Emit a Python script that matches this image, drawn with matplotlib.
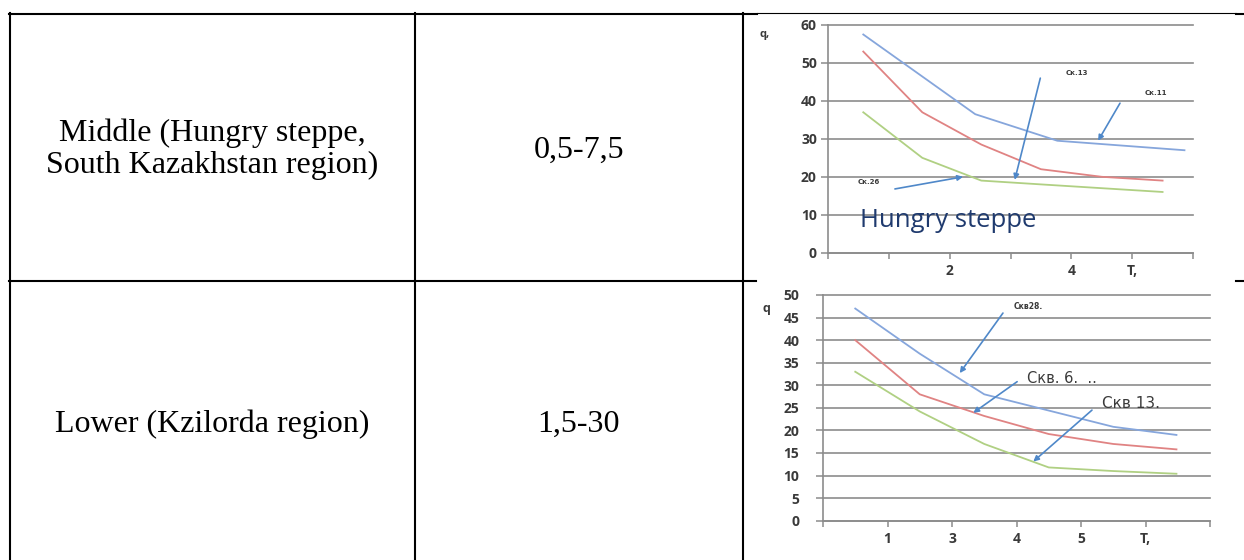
import matplotlib
matplotlib.use("Agg")
import matplotlib.pyplot as plt
from matplotlib.lines import Line2D

W, H = 1244, 560

# table text
row_names = ["Middle (Hungry steppe,\nSouth Kazakhstan region)", "Lower (Kzilorda region)"]
row_ranges = ["0,5-7,5", "1,5-30"]

# chart 1 (Hungry steppe)
c1_x = [0.58, 1.55, 2.52, 3.5, 4.5, 5.5]
c1_blue_x = [0.58, 2.42, 3.77, 5.86]
c1_blue = [57.5, 36.5, 29.5, 27]
c1_red = [53, 37, 28.5, 22, 20, 19]
c1_green = [37, 25, 19, 18, 17, 16]
c1_yticks = [0, 10, 20, 30, 40, 50, 60]
c1_xlabels = ["", "", "2", "", "4", "T,", ""]

# chart 2 (Kzilorda)
c2_x = [0.5, 1.5, 2.5, 3.5, 4.5, 5.48]
c2_blue = [47, 37, 28, 24.4, 20.8, 19]
c2_red = [40, 28, 23.2, 19.2, 17, 15.8]
c2_green = [33, 24.2, 17, 11.8, 11, 10.4]
c2_yticks = [0, 5, 10, 15, 20, 25, 30, 35, 40, 45, 50]
c2_xlabels = ["", "1", "3", "4", "5", "T,", ""]

BLUE = "#86a6dc"
RED = "#e08383"
GREEN = "#b0d083"
ARROW = "#4f88c9"
GRID = "#8c8c8c"
TXT = "#3a3a3a"


def fx(x):
    return x / W


def fy(y):
    return 1 - y / H


fig = plt.figure(figsize=(W / 100, H / 100), dpi=100)
fig.patch.set_facecolor("white")


def hline(y, x0, x1, lw=1.5):
    fig.add_artist(Line2D([fx(x0), fx(x1)], [fy(y), fy(y)], color="black", lw=lw,
                          transform=fig.transFigure))


def vline(x, y0, y1, lw=1.5):
    fig.add_artist(Line2D([fx(x), fx(x)], [fy(y0), fy(y1)], color="black", lw=lw,
                          transform=fig.transFigure))


# table grid
hline(14, 9, 757)
hline(13.3, 757, 1236, lw=0.8)
hline(14, 1236, 1244)
hline(281, 9, 756)
hline(281, 1236, 1244)
for xv in [10, 415, 743]:
    vline(xv, 13, 560)

# table text
serif = "Liberation Serif"
fig.text(fx(212), fy(149), row_names[0], ha="center", va="center", fontsize=23,
         family=serif, linespacing=1.12)
fig.text(fx(579), fy(150), row_ranges[0], ha="center", va="center", fontsize=23, family=serif)
fig.text(fx(212), fy(424), row_names[1], ha="center", va="center", fontsize=23, family=serif)
fig.text(fx(579), fy(424), row_ranges[1], ha="center", va="center", fontsize=23, family=serif)


def style_axes(ax, yticks, xlabels, ypad):
    ax.set_facecolor("white")
    for s in ["top", "right"]:
        ax.spines[s].set_visible(False)
    for s in ["left", "bottom"]:
        ax.spines[s].set_color(GRID)
        ax.spines[s].set_linewidth(1.2)
    ax.set_xlim(0, 6)
    ax.set_ylim(yticks[0], yticks[-1])
    ax.set_yticks(yticks)
    ax.set_xticks(range(7))
    ax.set_xticklabels(xlabels)
    ax.yaxis.grid(True, color=GRID, lw=1.2)
    for gl in ax.get_ygridlines():
        gl.set_clip_on(False)
    ax.tick_params(axis="y", direction="out", length=5, width=1.1, color=GRID,
                   labelsize=10, labelcolor=TXT, pad=ypad)
    ax.tick_params(axis="x", direction="out", length=4, width=1.1, color=GRID,
                   labelsize=10, labelcolor=TXT, pad=4)
    for lab in ax.get_xticklabels() + ax.get_yticklabels():
        lab.set_family("Open Sans")
        lab.set_fontweight("bold")


# chart 1
ax1 = fig.add_axes([fx(828), fy(252.7), fx(1193) - fx(828), fy(25) - fy(252.7)])
style_axes(ax1, c1_yticks, c1_xlabels, 3)
ax1.plot(c1_blue_x, c1_blue, color=BLUE, lw=1.3)
ax1.plot(c1_x, c1_red, color=RED, lw=1.3)
ax1.plot(c1_x, c1_green, color=GREEN, lw=1.3)
ax1.text(-1.04, 57.4, "q,", fontsize=8, fontweight="bold", color=TXT, family="Open Sans",
         ha="center", va="center")
ax1.text(0.53, 8.6, "Hungry steppe", fontsize=18.5, color="#1f3a6e", family="Open Sans",
         ha="left", va="center")
c1_notes = [("Ск.13", (3.9, 47.4), (3.49, 46.0), (3.07, 19.2)),
            ("Ск.11", (5.21, 42.1), (4.80, 39.4), (4.44, 29.5)),
            ("Ск.26", (0.48, 18.7), (1.10, 16.8), (2.22, 20.0))]
for lab, pos, a0, a1 in c1_notes:
    ax1.text(pos[0], pos[1], lab, fontsize=5, fontweight="bold", color=TXT,
             family="DejaVu Sans", ha="left", va="center", clip_on=False)
    ax1.annotate("", xy=a1, xytext=a0,
                 arrowprops=dict(arrowstyle="-|>", color=ARROW, lw=1.2,
                                 mutation_scale=8, shrinkA=0, shrinkB=0))

# chart 2
ax2 = fig.add_axes([fx(823), fy(520.7), fx(1210) - fx(823), fy(295) - fy(520.7)])
style_axes(ax2, c2_yticks, c2_xlabels, 12)
ax2.plot(c2_x, c2_blue, color=BLUE, lw=1.3)
ax2.plot(c2_x, c2_red, color=RED, lw=1.3)
ax2.plot(c2_x, c2_green, color=GREEN, lw=1.3)
ax2.text(-0.87, 47.1, "q", fontsize=9, fontweight="bold", color=TXT, family="Open Sans",
         ha="center", va="center")
c2_notes = [("Скв28.", 5.5, (2.95, 47.4), (2.79, 46.0), (2.12, 32.7)),
            ("Скв. 6.  ..", 10.5, (3.16, 31.6), (3.01, 30.8), (2.33, 23.9)),
            ("Скв 13.", 11, (4.33, 25.9), (4.17, 24.5), (3.26, 13.1))]
for lab, fs, pos, a0, a1 in c2_notes:
    ax2.text(pos[0], pos[1], lab, fontsize=fs, color=TXT, family="DejaVu Sans",
             fontweight="bold" if fs < 6 else "normal",
             ha="left", va="center", clip_on=False)
    ax2.annotate("", xy=a1, xytext=a0,
                 arrowprops=dict(arrowstyle="-|>", color=ARROW, lw=1.2,
                                 mutation_scale=8, shrinkA=0, shrinkB=0))

fig.savefig("out.png", dpi=100, facecolor="white")
